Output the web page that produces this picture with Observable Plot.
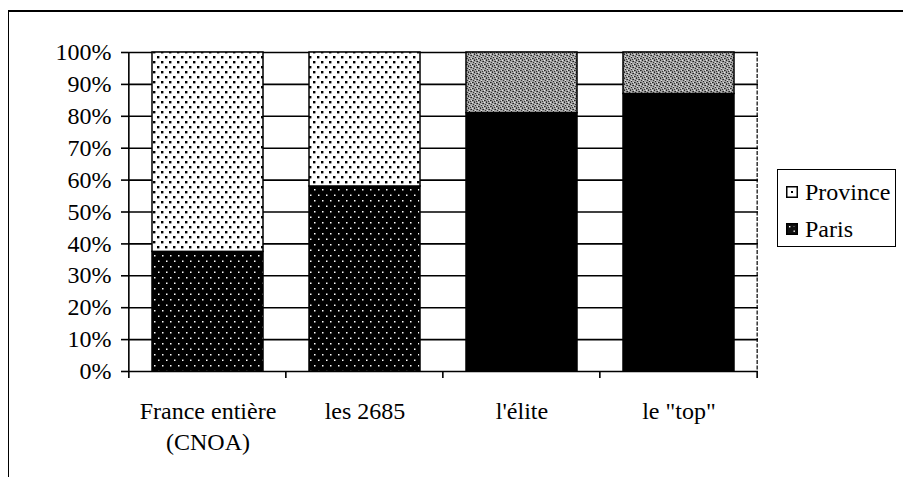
<!DOCTYPE html>
<html><head><meta charset="utf-8">
<script src="https://cdn.jsdelivr.net/npm/d3@7"></script>
<script src="https://cdn.jsdelivr.net/npm/@observablehq/plot@0.6"></script>
<style>
body{margin:0;background:#fff}
#wrap{position:relative;width:903px;height:477px;overflow:hidden}
#chart{position:absolute;left:0;top:0}
#border{position:absolute;left:8px;top:10px;width:1000px;height:1000px;border-left:1.5px solid #000;border-top:2px solid #000}
#legend{position:absolute;left:777px;top:169px;width:119px;height:78px;border:1.5px solid #000;box-sizing:border-box;background:#fff;font-size:24px;color:#000}
.item{position:absolute;left:8px;display:flex;align-items:center;white-space:nowrap;line-height:1}
.item svg{margin-right:7px}
</style></head><body>
<svg width="0" height="0" style="position:absolute">
<defs>
<pattern id="provDots" width="8" height="10" patternUnits="userSpaceOnUse">
<rect width="8" height="10" fill="#fff"/>
<rect x="1" y="1" width="2.4" height="2.4" fill="#000"/>
<rect x="5" y="6" width="2.4" height="2.4" fill="#000"/>
</pattern>
<pattern id="parisDots" width="8" height="11" patternUnits="userSpaceOnUse">
<rect width="8" height="11" fill="#000"/>
<rect x="2" y="2" width="1.5" height="1.5" fill="#fff"/>
<rect x="6" y="7.5" width="1.5" height="1.5" fill="#fff"/>
</pattern>
<pattern id="grey" width="6" height="6" patternUnits="userSpaceOnUse">
<rect width="6" height="6" fill="#a4a4a4"/>
<rect x="0" y="0" width="1" height="1" fill="#222"/>
<rect x="3" y="1" width="1" height="1" fill="#222"/>
<rect x="5" y="2" width="1" height="1" fill="#333"/>
<rect x="1" y="3" width="1" height="1" fill="#222"/>
<rect x="4" y="4" width="1" height="1" fill="#222"/>
<rect x="2" y="5" width="1" height="1" fill="#333"/>
<rect x="0" y="5" width="1" height="1" fill="#555"/>
<rect x="2" y="1" width="1" height="1" fill="#555"/>
<rect x="5" y="4" width="1" height="1" fill="#555"/>
<rect x="4" y="0" width="1" height="1" fill="#e0e0e0"/>
<rect x="1" y="2" width="1" height="1" fill="#e0e0e0"/>
<rect x="3" y="4" width="1" height="1" fill="#e0e0e0"/>
</pattern>
</defs>
</svg>
<div id="wrap">
<div id="border"></div>
<div id="chart"></div>
<div id="legend" style="font-family:'Liberation Serif'">
<div class="item" style="top:10px;font-family:'Liberation Serif'"><svg width="12" height="12"><rect x="0.75" y="0.75" width="10.5" height="10.5" fill="#fff" stroke="#000" stroke-width="1.5"/><rect x="5" y="5" width="2" height="2" fill="#000"/></svg>Province</div>
<div class="item" style="top:47px;font-family:'Liberation Serif'"><svg width="12" height="12"><rect x="0.75" y="0.75" width="10.5" height="10.5" fill="#111" stroke="#000" stroke-width="1.5"/><rect x="3" y="3" width="1.4" height="1.4" fill="#fff"/><rect x="7.5" y="7.5" width="1.4" height="1.4" fill="#fff"/><rect x="7.5" y="3" width="1" height="1" fill="#888"/></svg>Paris</div>
</div>
</div>
<script>
const categories = ["France entière\n(CNOA)", "les 2685", "l'élite", "le \"top\""];
const series = ["Paris", "Province"];
const paris = [37.5, 58, 81, 87];
const province = [62.5, 42, 19, 13];
const yTicks = [0, 10, 20, 30, 40, 50, 60, 70, 80, 90, 100];

// styles (kept apart from the data)
const fillStyle = {
  Paris: ["url(#parisDots)", "url(#parisDots)", "#000", "#000"],
  Province: ["url(#provDots)", "url(#provDots)", "url(#grey)", "url(#grey)"]
};

const rows = [];
categories.forEach((c, i) => {
  rows.push({cat: c, series: "Paris", value: paris[i], fill: fillStyle.Paris[i]});
  rows.push({cat: c, series: "Province", value: province[i], fill: fillStyle.Province[i]});
});

const chart = Plot.plot({
  width: 903,
  height: 477,
  marginLeft: 128,
  marginRight: 145,
  marginTop: 52,
  marginBottom: 106,
  style: {fontFamily: "Liberation Serif", fontSize: "24px", color: "#000", background: "transparent", overflow: "visible"},
  x: {domain: categories, paddingInner: 0.295, paddingOuter: 0.1475, label: null},
  y: {domain: [0, 100], label: null},
  color: {type: "identity"},
  marks: [
    Plot.ruleY(yTicks, {stroke: "#000", strokeWidth: 1.6}),
    Plot.barY(rows, Plot.stackY({x: "cat", y: "value", fill: "fill", stroke: "#000", strokeWidth: 1.5})),
    Plot.axisY({ticks: yTicks, tickSize: 7, tickPadding: 10, tickFormat: d => d + "%", fontSize: 24, fontFamily: "Liberation Serif", strokeWidth: 1.6}),
    Plot.axisX({tickSize: 0, tickPadding: 25, fontSize: 24, fontFamily: "Liberation Serif", lineHeight: 1.3})
  ]
});
document.getElementById("chart").appendChild(chart);

// axis lines and category boundary ticks, positioned through Plot's own x scale
const xs = chart.scale("x");
const half = xs.step * xs.paddingInner / 2;
const bounds = categories.map(c => xs.apply(c) - half);
bounds.push(xs.apply(categories[categories.length - 1]) + xs.bandwidth + half);
const ys = chart.scale("y");
const y0 = ys.apply(0), y1 = ys.apply(100);
const g = d3.select(chart).append("g").attr("stroke", "#000");
g.append("line").attr("x1", bounds[0]).attr("x2", bounds[0]).attr("y1", y1).attr("y2", y0 + 7).attr("stroke-width", 1.6);
g.selectAll(".bt").data(bounds.slice(1)).join("line")
  .attr("x1", d => d).attr("x2", d => d).attr("y1", y0).attr("y2", y0 + 7).attr("stroke-width", 1.6);
g.append("line").attr("x1", bounds[bounds.length - 1]).attr("x2", bounds[bounds.length - 1])
  .attr("y1", y1).attr("y2", y0).attr("stroke-width", 1.2).attr("stroke-dasharray", "4,1.5");
</script>
</body></html>
